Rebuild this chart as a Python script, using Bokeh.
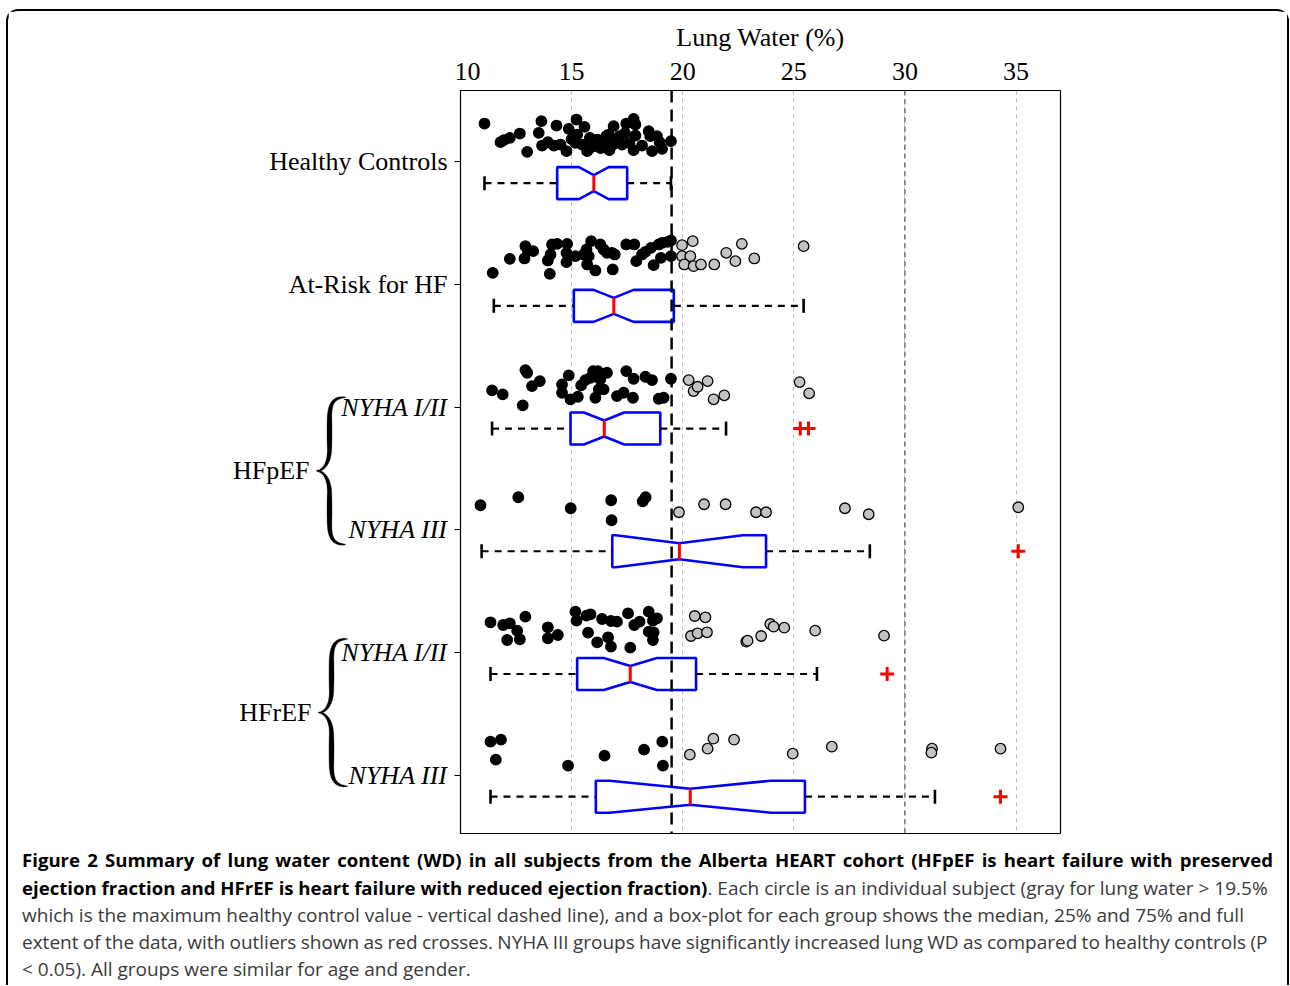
import numpy as np
from bokeh.plotting import figure
from bokeh.models import (Range1d, FixedTicker, Span, ColumnDataSource, Div, CustomJSTickFormatter)
from bokeh.core.properties import value
from bokeh.layouts import column, row
from bokeh.embed import file_html
from bokeh.resources import INLINE

# ---------------------------------------------------------------- data
group_labels = ["Healthy Controls", "At-Risk for HF", "NYHA I/II", "NYHA III", "NYHA I/II", "NYHA III"]
group_italic = [False, False, True, True, True, True]
class_labels = ["HFpEF", "HFrEF"]
class_members = [(2, 3), (4, 5)]
x_ticks = [10, 15, 20, 25, 30, 35]
healthy_max = 19.5
x_title = "Lung Water (%)"

# individual subjects: lung water (%) and vertical jitter (px above box centre)
hc_x = [11.08, 11.80, 11.95, 12.22, 12.67, 13.00, 13.64, 13.52, 13.67, 13.93, 14.20, 14.32, 14.50,
        14.77, 14.87, 15.22, 15.25, 15.58, 15.17, 15.47, 15.70, 15.82, 16.00, 16.15, 16.37, 16.56,
        16.67, 16.89, 16.86, 17.04, 17.16, 17.27, 17.46, 17.79, 17.87, 17.87, 17.79, 18.17, 18.47,
        18.62, 18.54, 18.84, 18.96, 19.07, 19.47, 15.90, 16.30, 17.60, 16.70, 15.00, 17.40]
hc_dy = [-59.6, -41, -43, -45.3, -49.6, -31.3, -62, -50.3, -37.6, -41, -37.6, -57.6, -38.6,
         -32, -54.3, -63.6, -48.6, -56.3, -40.3, -38.6, -32, -45.3, -38.6, -43.6, -41, -47,
         -48.6, -57, -38.6, -44.3, -47, -38.6, -59.6, -64.3, -58.6, -47.6, -33, -37.6, -52,
         -32, -47, -47, -41, -34.3, -42, -36, -35, -40, -33, -44, -50]

ar_x = [11.45, 12.22, 12.88, 12.92, 13.03, 13.27, 13.93, 14.05, 14.12, 14.35, 14.02, 14.80, 14.77,
        14.77, 15.17, 15.55, 15.67, 15.88, 15.70, 15.77, 16.07, 16.29, 16.44, 16.59, 16.82, 16.94,
        16.85, 17.46, 17.82, 17.91, 18.17, 18.32, 18.57, 18.69, 18.92, 19.07, 19.02, 19.32, 19.47,
        19.47, 19.97, 20.45, 19.97, 20.34, 20.07, 20.49, 20.82, 21.42, 21.96, 22.37, 22.66, 23.22, 25.44]
ar_dy = [-33, -47, -47.4, -59.7, -55.4, -54.7, -45.4, -51.4, -61.4, -62, -32, -62, -53,
         -43.7, -49.7, -51.4, -56.4, -64.7, -41.4, -49.7, -35.4, -61.4, -56.4, -53, -53, -51.4,
         -36.4, -61.4, -61.4, -44.7, -51.4, -54, -58, -40.7, -61.4, -63, -48, -64, -65.4,
         -49.7, -60.7, -64.7, -49.7, -49.7, -41.4, -39.7, -41.4, -41.4, -53, -44.7, -62, -47.4, -59.7]

pe12_x = [11.42, 11.90, 12.80, 12.92, 13.00, 13.22, 13.57, 14.57, 14.57, 14.87, 14.95, 15.28, 15.43,
          15.62, 15.85, 15.97, 16.18, 16.29, 16.07, 16.22, 16.44, 16.59, 17.04, 17.34, 17.46, 17.79,
          17.76, 18.32, 18.62, 18.92, 19.14, 19.47, 20.27, 20.49, 20.67, 21.12, 21.39, 21.87, 25.26, 25.69]
pe12_dy = [-38.2, -34.2, -23.2, -58.5, -55.8, -42.5, -47.5, -44.2, -35.8, -53.2, -29.2, -31.8, -43.2,
           -48.5, -50.8, -57.5, -57.5, -49.2, -30.8, -39.2, -39.2, -55.8, -32.5, -35.8, -57.5, -49.8,
           -30.8, -51.8, -48.5, -29.8, -30.8, -49.8, -48.5, -37.5, -41.8, -47.5, -29.2, -33.2, -46.5, -35.2]

pe3_x = [10.90, 12.60, 14.96, 16.78, 16.80, 18.20, 18.33, 19.83, 20.96, 21.93, 23.30, 23.75, 27.30, 28.37, 35.10]
pe3_dy = [-46, -54, -43, -51, -31, -50, -54, -39, -47, -47, -39, -39, -43, -37, -44]

re12_x = [11.35, 11.92, 12.22, 12.55, 12.92, 12.10, 12.67, 13.93, 13.93, 14.38, 15.17, 15.22, 15.67,
          15.85, 15.74, 16.15, 16.37, 16.77, 17.04, 16.64, 16.77, 17.54, 17.64, 17.82, 18.06, 18.47,
          18.84, 18.66, 18.47, 18.66, 18.69, 20.54, 21.02, 20.37, 20.67, 21.09, 22.86, 22.92, 23.53,
          23.94, 24.09, 24.57, 25.96, 29.06]
re12_dy = [-51.7, -49, -50.7, -43.3, -57.3, -34, -34.7, -46.7, -35.7, -39, -62.3, -53.3, -58.3,
           -59.7, -41.3, -31.7, -55, -53, -52.3, -36.7, -27.3, -60.7, -26.3, -49, -52.3, -62.3,
           -55.7, -53.3, -42.3, -34, -41.7, -58, -56.7, -38, -40.7, -41.7, -32.3, -33.3, -38,
           -50, -47.3, -46.3, -43.3, -38.3]

re3_x = [11.35, 11.82, 11.59, 14.84, 16.48, 18.26, 19.08, 19.11, 20.32, 21.12, 21.38, 22.31, 24.95,
         26.71, 31.22, 31.19, 34.30]
re3_dy = [-55, -57, -37, -31, -41, -47, -55, -31, -42, -48, -58, -57, -43, -50, -48, -44, -48]

# box-plot statistics per group
stat_lo = [11.08, 11.50, 11.42, 10.95, 11.35, 11.35]
stat_q1 = [14.35, 15.10, 14.95, 16.83, 15.25, 16.09]
stat_med = [16.00, 16.90, 16.47, 19.85, 17.64, 20.34]
stat_q3 = [17.50, 19.60, 18.99, 23.75, 20.60, 25.50]
stat_hi = [19.47, 25.44, 21.95, 28.42, 26.04, 31.35]
notch_lo = [15.33, 15.99, 15.55, 16.99, 16.45, 16.71]
notch_hi = [16.67, 17.79, 17.37, 22.71, 18.84, 23.97]
outliers = [[], [], [25.29, 25.66], [35.10], [29.20], [34.30]]

caption_lines = [
    ("Figure 2 Summary of lung water content (WD) in all subjects from the Alberta HEART cohort "
     "(HFpEF is heart failure with preserved", ""),
    ("ejection fraction and HFrEF is heart failure with reduced ejection fraction)",
     ". Each circle is an individual subject (gray for lung water &gt; 19.5%"),
    ("", "which is the maximum healthy control value - vertical dashed line), and a box-plot for "
         "each group shows the median, 25% and 75% and full"),
    ("", "extent of the data, with outliers shown as red crosses. NYHA III groups have significantly "
         "increased lung WD as compared to healthy controls (P"),
    ("", "&lt; 0.05). All groups were similar for age and gender."),
]
caption_word_spacing = [2.4, 0, 0, -0.6, 0]

# ---------------------------------------------------------------- geometry
FRAME_H = 743
Y_TOP, Y_BOTTOM = -0.755, 5.30
ROW_PX = FRAME_H / (Y_BOTTOM - Y_TOP)
BOX_H = 16 / ROW_PX
NOTCH_H = 8 / ROW_PX
CAP_H = 7 / ROW_PX
LABEL_OFF = -0.175
SERIF = "Liberation Serif"
FS = "26px"
LEFT_W = 446

yr = Range1d(Y_BOTTOM, Y_TOP)

p = figure(width=833, height=832, x_range=Range1d(10, 37), y_range=yr,
           x_axis_location="above", toolbar_location=None, output_backend="svg",
           min_border_left=6, min_border_right=227, min_border_top=79, min_border_bottom=10)
p.outline_line_color = "black"
p.outline_line_width = 1.2
p.background_fill_color = "white"

xa = p.xaxis[0]
xa.ticker = FixedTicker(ticks=x_ticks)
xa.axis_label = x_title
xa.axis_label_text_font = SERIF
xa.axis_label_text_font_size = FS
xa.axis_label_text_font_style = "normal"
xa.axis_label_text_color = "black"
xa.axis_label_standoff = 8
xa.major_label_text_font = SERIF
xa.major_label_text_font_size = FS
xa.major_label_text_color = "black"
xa.major_label_standoff = 11
xa.major_tick_in = 0
xa.major_tick_out = 0
xa.minor_tick_line_color = None
xa.axis_line_color = None

ya = p.yaxis[0]
ya.ticker = FixedTicker(ticks=[i + LABEL_OFF for i in range(len(group_labels))])
ya.formatter = CustomJSTickFormatter(code="return ''")
ya.major_tick_out = 6
ya.major_tick_in = 0
ya.major_label_standoff = 0
ya.major_tick_line_color = "black"
ya.major_tick_line_width = 1.2
ya.minor_tick_line_color = None
ya.axis_line_color = None

p.xgrid.ticker = FixedTicker(ticks=x_ticks[1:])
p.xgrid.grid_line_color = "#bdbdbd"
p.xgrid.grid_line_dash = "4 4"
p.xgrid.grid_line_width = 1
p.ygrid.visible = False
p.add_layout(Span(location=30, dimension="height", line_color="#555555", line_dash="5 4",
                  line_width=1.2, level="underlay"))

# notched boxes
bxs, bys = [], []
for i in range(len(group_labels)):
    bxs.append([stat_q1[i], notch_lo[i], stat_med[i], notch_hi[i], stat_q3[i],
                stat_q3[i], notch_hi[i], stat_med[i], notch_lo[i], stat_q1[i]])
    bys.append([i - BOX_H, i - BOX_H, i - NOTCH_H, i - BOX_H, i - BOX_H,
                i + BOX_H, i + BOX_H, i + NOTCH_H, i + BOX_H, i + BOX_H])
p.patches(bxs, bys, fill_color="white", line_color="#0000ff", line_width=2.6)

gi = list(range(len(group_labels)))
# whiskers
p.segment(x0=stat_lo, y0=gi, x1=stat_q1, y1=gi, line_color="black", line_width=2.2, line_dash="7 6")
p.segment(x0=stat_q3, y0=gi, x1=stat_hi, y1=gi, line_color="black", line_width=2.2, line_dash="7 6")
p.segment(x0=stat_lo, y0=[g - CAP_H for g in gi], x1=stat_lo, y1=[g + CAP_H for g in gi],
          line_color="black", line_width=2.6)
p.segment(x0=stat_hi, y0=[g - CAP_H for g in gi], x1=stat_hi, y1=[g + CAP_H for g in gi],
          line_color="black", line_width=2.6)

p.add_layout(Span(location=healthy_max, dimension="height", line_color="black",
                  line_width=2.5, line_dash="12 7"))

# medians
p.segment(x0=stat_med, y0=[g - NOTCH_H for g in gi], x1=stat_med, y1=[g + NOTCH_H for g in gi],
          line_color="red", line_width=3)

# subjects
all_x = [hc_x, ar_x, pe12_x, pe3_x, re12_x, re3_x]
all_dy = [hc_dy, ar_dy, pe12_dy, pe3_dy, re12_dy, re3_dy]
px, py, pc = [], [], []
for g, (xs, dys) in enumerate(zip(all_x, all_dy)):
    for xv, dv in zip(xs, dys):
        px.append(xv)
        py.append(g + dv / ROW_PX)
        pc.append("#c3c3c3" if xv > healthy_max else "black")
p.scatter("x", "y", source=ColumnDataSource(dict(x=px, y=py, c=pc)), size=10.5,
          fill_color="c", line_color="black", line_width=1.3)

# outliers
ox, oy = [], []
for g, vals in enumerate(outliers):
    for v in vals:
        ox.append(v)
        oy.append(g)
p.scatter(ox, oy, marker="cross", size=14, line_color="red", line_width=3)

# ---------------------------------------------------------------- left label panel
pl = figure(width=LEFT_W, height=832, x_range=Range1d(0, LEFT_W), y_range=yr,
            x_axis_type=None, y_axis_type=None, toolbar_location=None, output_backend="svg",
            min_border_left=0, min_border_right=0, min_border_top=79, min_border_bottom=10)
pl.outline_line_color = None
pl.grid.visible = False

for style in ("normal", "italic"):
    idx = [g for g, it in enumerate(group_italic) if (style == "italic") == it]
    pl.text(x=[LEFT_W - 7] * len(idx), y=[g + LABEL_OFF for g in idx],
            text=[group_labels[g] for g in idx], text_font=value(SERIF),
            text_font_size=value(FS), text_font_style=value(style),
            text_align="right", text_baseline="middle", text_color="black")


def brace(yc, tip_x):
    hh = 0.6 * ROW_PX
    stem, end = 13.0, 29.0

    def bez(p0, p1, p2, p3, n=30):
        t = np.linspace(0, 1, n)[:, None]
        return ((1 - t) ** 3 * np.array(p0) + 3 * (1 - t) ** 2 * t * np.array(p1)
                + 3 * (1 - t) * t ** 2 * np.array(p2) + t ** 3 * np.array(p3))
    a = bez([end, -hh], [17, -hh], [stem, -hh + 6], [stem, -hh + 22])
    b = np.linspace([stem, -hh + 22], [stem, -22], 20)
    c = bez([stem, -22], [stem, -8], [7, 0], [0, 0])
    upper = np.vstack([a, b[1:], c[1:]])
    lower = upper[::-1] * np.array([1, -1])
    cl = np.vstack([upper, lower[1:]])
    d = np.sqrt((np.diff(cl, axis=0) ** 2).sum(1))
    s = np.concatenate([[0], np.cumsum(d)])
    s /= s[-1]
    w = 0.7 + 4.3 * np.abs(np.sin(2 * np.pi * s)) ** 0.7
    tg = np.gradient(cl, axis=0)
    tg /= np.linalg.norm(tg, axis=1)[:, None]
    nm = np.stack([-tg[:, 1], tg[:, 0]], 1)
    poly = np.vstack([cl + nm * w[:, None] / 2, (cl - nm * w[:, None] / 2)[::-1]])
    return (tip_x + poly[:, 0]).tolist(), (yc + poly[:, 1] / ROW_PX).tolist()


for k, (lab, (ga, gb)) in enumerate(zip(class_labels, class_members)):
    yc = (ga + gb) / 2 + LABEL_OFF + (0.02 if k == 0 else -0.01)
    tip = 308 + 2 * k
    bx, by = brace(yc, tip)
    pl.patch(bx, by, fill_color="black", line_color="black", line_width=0.3)
    pl.text(x=[tip - 7], y=[yc], text=[lab], text_font=value(SERIF),
            text_font_size=value(FS), text_align="right", text_baseline="middle",
            text_color="black")

# ---------------------------------------------------------------- caption
cap_parts = []
for (bold, plain), ws in zip(caption_lines, caption_word_spacing):
    seg = "<span style='word-spacing:%.1fpx'>" % ws
    if bold:
        seg += "<b style='color:#000;font-size:18.6px'>" + bold + "</b>"
    seg += plain + "</span>"
    cap_parts.append(seg)
caption_html = ("<div style=\"font-family:'Open Sans';font-size:19px;line-height:27px;color:#3a3a3a;"
                "white-space:nowrap;\">" + "<br>".join(cap_parts) + "</div>")
caption = Div(text=caption_html, width=1262, height=139, margin=(3, 0, 0, 14))

layout = column(row(pl, p), caption, margin=(9, 0, 0, 6),
                styles={"border-top": "2px solid black", "border-left": "2px solid black",
                        "border-right": "2px solid black",
                        "border-top-left-radius": "12px", "border-top-right-radius": "12px"})

open("out.html", "w").write(file_html(layout, INLINE))
